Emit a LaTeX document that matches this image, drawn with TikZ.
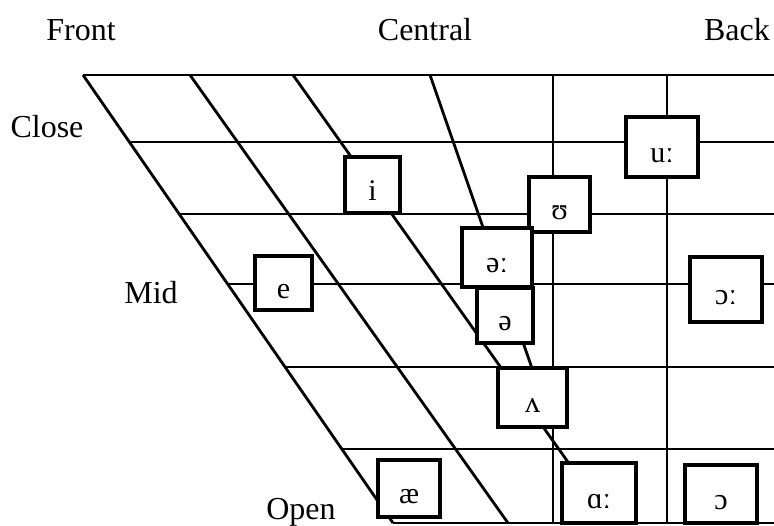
\documentclass[tikz,border=0pt]{standalone}
\usepackage{fontspec}
\setmainfont{Liberation Serif}
\begin{document}
\begin{tikzpicture}[x=0.5pt, y=-0.5pt,
    grid/.style={line width=1.4pt},
    vbox/.style={draw, fill=white, line width=1.8pt, inner sep=0pt,
        font=\fontsize{15}{15}\selectfont, text height=15pt, text depth=0pt,
        minimum width=31pt, minimum height=29pt},
    lab/.style={font=\fontsize{16}{16}\selectfont}]
    \useasboundingbox (0,0) rectangle (774,525);
    % dimensions
    \node [lab] (front) at (81, 30) {Front};
    \node [lab] (central) at (425, 30) {Central};
    \node [lab] (back) at (737, 30) {Back};
    \node [lab] (close) at (47, 127) {Close};
    \node [lab] (mid) at (151, 293) {Mid};
    \node [lab] (open) at (301, 512) {Open};
    % horizontal lines
    \draw [grid] (83, 75) to (774, 75);
    \draw [grid] (129, 142) to (774, 142);
    \draw [grid] (179, 214) to (774, 214);
    \draw [grid] (228, 284) to (774, 284);
    \draw [grid] (285, 367) to (774, 367);
    \draw [grid] (342, 449) to (774, 449);
    \draw [grid] (393, 523) to (774, 523);
    % slanted lines
    \draw [grid] (83, 75) to (393, 523);
    \draw [grid] (190, 75) to (508, 523);
    \draw [grid] (293, 75) to (590, 493);
    \draw [grid] (430, 75) to (542, 397);
    % vertical lines
    \draw [grid] (553, 75) to (553, 523);
    \draw [grid] (667, 75) to (667, 523);
    % vowels
    \node [vbox, minimum width=27.5pt, minimum height=28pt] (i) at (372.5, 185) {i};
    \node [vbox, minimum width=36pt, minimum height=30pt] (uu) at (662, 147) {uː};
    \node [vbox, minimum width=30.5pt, minimum height=27.5pt] (upsilon) at (559.5, 204.5) {ʊ};
    \node [vbox, minimum width=35pt, minimum height=29.5pt] (schwaa) at (497, 257.5) {əː};
    \node [vbox, minimum width=28pt, minimum height=27.5pt] (schwa) at (505, 315.5) {ə};
    \node [vbox, minimum width=28.5pt, minimum height=27pt] (e) at (283.5, 283) {e};
    \node [vbox, minimum width=36pt, minimum height=32.5pt] (oo) at (726, 289.5) {ɔː};
    \node [vbox, minimum width=34.5pt, minimum height=29.5pt] (wedge) at (532.5, 397.5) {ʌ};
    \node [vbox, minimum width=31pt, minimum height=28.5pt] (ash) at (409, 488.5) {æ};
    \node [vbox, minimum width=37pt, minimum height=30pt] (aa) at (599, 493) {ɑː};
    \node [vbox, minimum width=36pt, minimum height=29pt] (o) at (721, 494) {ɔ};
\end{tikzpicture}
\end{document}
